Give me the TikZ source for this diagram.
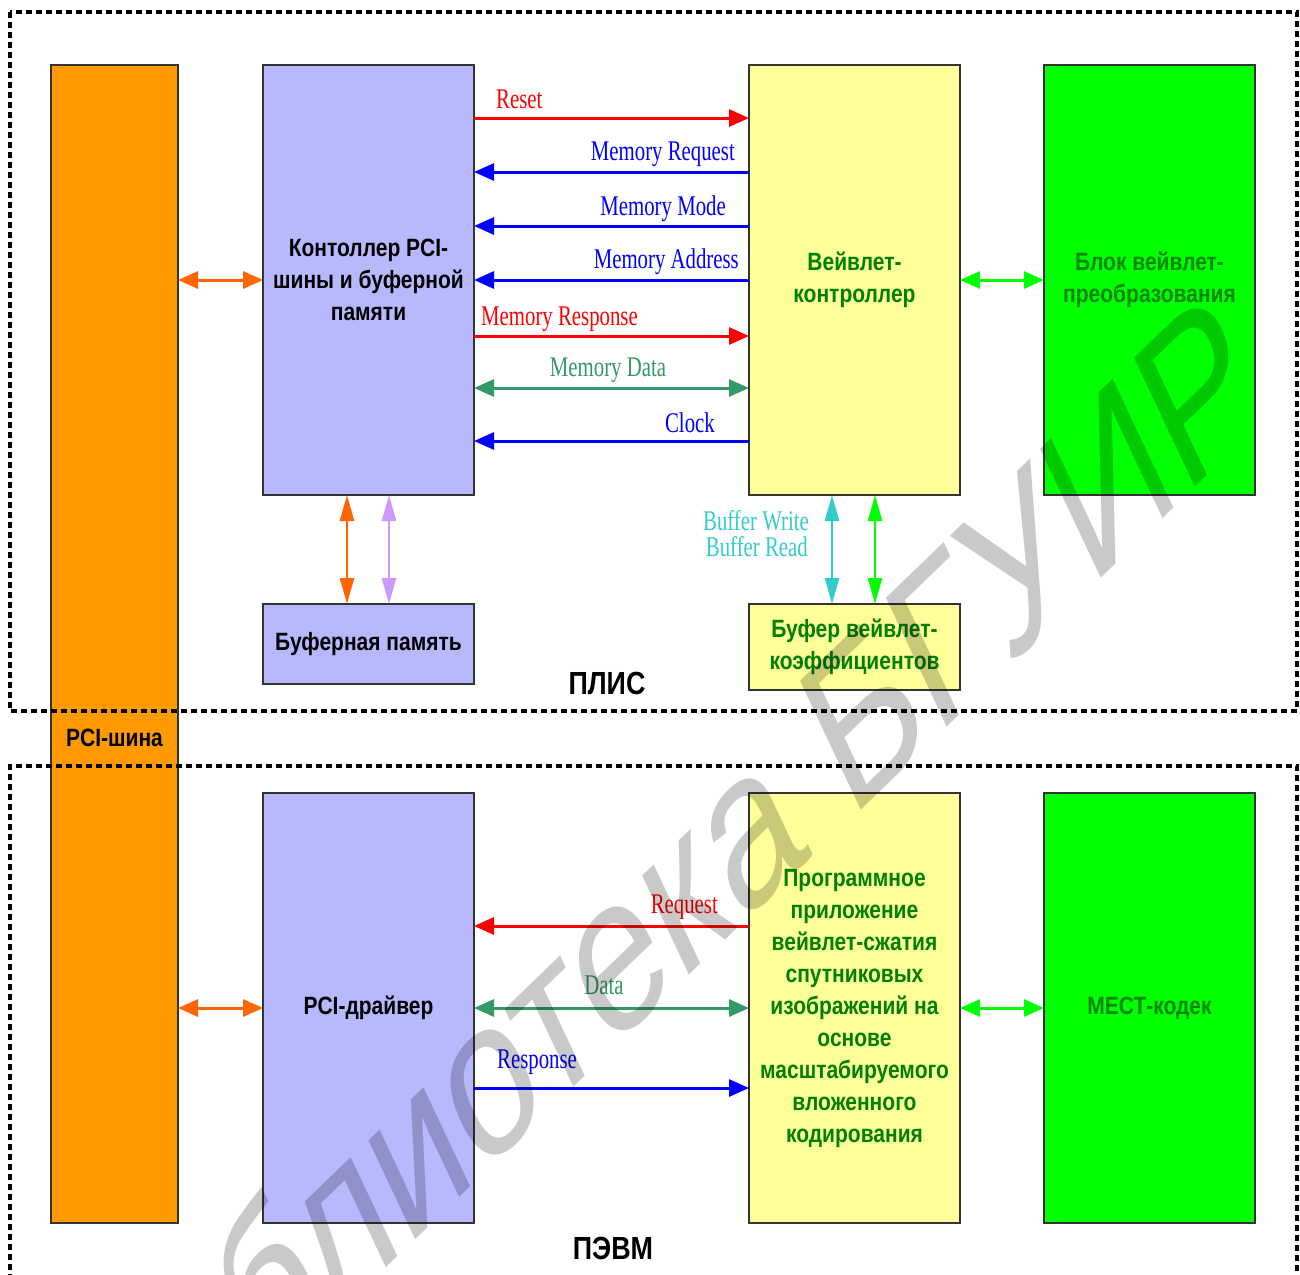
\documentclass[tikz,border=0pt]{standalone}
\usepackage{fontspec}
\setmainfont{Liberation Serif}
\newfontfamily\lblfont[FakeStretch=0.73]{Liberation Serif}
\newfontfamily\boxfont[FakeStretch=0.84]{Liberation Sans}
\newfontfamily\wmfont{Liberation Sans}
\usetikzlibrary{arrows.meta,calc}
\definecolor{busor}{RGB}{255,153,0}
\definecolor{lav}{RGB}{184,184,255}
\definecolor{yel}{RGB}{255,255,153}
\definecolor{grn}{RGB}{0,255,0}
\definecolor{dgrn}{RGB}{0,128,0}
\definecolor{mgrn}{RGB}{0,135,0}
\definecolor{aor}{RGB}{255,102,0}
\definecolor{alav}{RGB}{204,153,255}
\definecolor{cyn}{RGB}{51,204,204}
\definecolor{sea}{RGB}{51,153,102}
\definecolor{rd}{RGB}{255,0,0}
\definecolor{bl}{RGB}{0,0,255}
\begin{document}
\begin{tikzpicture}[x=1pt,y=-1pt,
 box/.style={draw=black!80, line width=1.5pt, inner sep=0pt, outer sep=0pt,
   minimum width=211pt, align=center,
   font=\boxfont\bfseries\fontsize{25}{32}\selectfont},
 txt/.style={inner sep=0pt, align=center, font=\boxfont\bfseries\fontsize{25}{32}\selectfont},
 frame/.style={line width=3.5pt, dash pattern=on 6pt off 4pt},
 htip/.tip={Triangle[length=20pt,width=17pt]},
 vtip/.tip={Triangle[length=26pt,width=14pt]},
 harr/.style={line width=3pt, -htip},
 hdarr/.style={line width=3pt, htip-htip},
 vdarr/.style={line width=2.5pt, vtip-vtip},
 lbl/.style={inner sep=0pt, font=\lblfont\fontsize{28.5}{26}\selectfont},
 ttl/.style={inner sep=0pt, font=\boxfont\bfseries\fontsize{32}{36}\selectfont}
]
\useasboundingbox (0,0) rectangle (1300,1274);
\clip (0,0) rectangle (1300,1274);
\fill[white] (0,0) rectangle (1300,1274);

% boxes
\node[box, fill=busor, minimum width=127pt, minimum height=1158pt] (bus) at (114.5,644) {};
\node[box, fill=lav, minimum height=430pt] (ctrl) at (368.5,280) {Контоллер PCI-\\шины и буферной\\памяти};
\node[box, fill=yel, minimum height=430pt, text=dgrn] (wav) at (854.5,280) {Вейвлет-\\контроллер};
\node[box, fill=grn, minimum height=430pt, text=mgrn] (blk) at (1149.5,280) {Блок вейвлет-\\преобразования};
\node[box, fill=lav, minimum height=80pt] (bufmem) at (368.5,644) {Буферная память};
\node[box, fill=yel, minimum height=86pt, text=dgrn] (coef) at (854.5,647) {Буфер вейвлет-\\коэффициентов};
\node[box, fill=lav, minimum height=430pt] (drv) at (368.5,1008) {PCI-драйвер};
\node[box, fill=yel, minimum height=430pt, text=dgrn] (app) at (854.5,1008) {Программное\\приложение\\вейвлет-сжатия\\спутниковых\\изображений на\\основе\\масштабируемого\\вложенного\\кодирования};
\node[box, fill=grn, minimum height=430pt, text=mgrn] (mect) at (1149.5,1008) {МЕСТ-кодек};

% frames
\draw[frame] (10,12) rectangle (1297,711);
\draw[frame] (10,1300) -- (10,766) -- (1297,766) -- (1297,1300);

\node[txt] (buslbl) at (114.5,738) {PCI-шина};
\node[ttl] (plis) at (607,683) {ПЛИС};
\node[ttl] (pevm) at (613,1248) {ПЭВМ};

% PCI bus links
\draw[hdarr, aor] (bus.east |- ctrl.west) -- (ctrl.west);
\draw[hdarr, aor] (bus.east |- drv.west) -- (drv.west);

% controller <-> wavelet controller
\draw[harr, rd] (ctrl.east |- 0,118) -- (wav.west |- 0,118);
\draw[harr, bl] (wav.west |- 0,172) -- (ctrl.east |- 0,172);
\draw[harr, bl] (wav.west |- 0,226) -- (ctrl.east |- 0,226);
\draw[harr, bl] (wav.west |- 0,280) -- (ctrl.east |- 0,280);
\draw[harr, rd] (ctrl.east |- 0,336) -- (wav.west |- 0,336);
\draw[hdarr, sea] (ctrl.east |- 0,388) -- (wav.west |- 0,388);
\draw[harr, bl] (wav.west |- 0,441) -- (ctrl.east |- 0,441);

\node[lbl, text=rd, anchor=base west] (lreset) at (496,108) {Reset};
\node[lbl, text=bl, anchor=base east] (lmreq) at (735,160) {Memory Request};
\node[lbl, text=bl, anchor=base east] (lmmode) at (726,215) {Memory Mode};
\node[lbl, text=bl, anchor=base east] (lmaddr) at (739,268) {Memory Address};
\node[lbl, text=rd, anchor=base west] (lmresp) at (481,325) {Memory Response};
\node[lbl, text=sea, anchor=base] (lmdata) at (608,376) {Memory Data};
\node[lbl, text=bl, anchor=base east] (lclock) at (715,432) {Clock};

% vertical links
\draw[vdarr, aor] (ctrl.south -| 347,0) -- (bufmem.north -| 347,0);
\draw[vdarr, alav] (ctrl.south -| 389,0) -- (bufmem.north -| 389,0);
\draw[vdarr, cyn] (wav.south -| 832,0) -- (coef.north -| 832,0);
\draw[vdarr, grn] (wav.south -| 875,0) -- (coef.north -| 875,0);
\node[lbl, text=cyn, anchor=base east] (lbw) at (809,530) {Buffer Write};
\node[lbl, text=cyn, anchor=base east] (lbr) at (808,556) {Buffer Read};

% wavelet controller <-> block
\draw[hdarr, grn] (wav.east) -- (blk.west);
\draw[hdarr, grn] (app.east) -- (mect.west);

% PC links
\draw[harr, rd] (app.west |- 0,926) -- (drv.east |- 0,926);
\draw[hdarr, sea] (drv.east |- 0,1008) -- (app.west |- 0,1008);
\draw[harr, bl] (drv.east |- 0,1088) -- (app.west |- 0,1088);
\node[lbl, text=rd, anchor=base east] (lreq) at (718,913) {Request};
\node[lbl, text=sea, anchor=base] (ldata) at (604,994) {Data};
\node[lbl, text=bl, anchor=base west] (lresp) at (497,1068) {Response};

% watermark
\begin{scope}[blend mode=multiply]
\begin{scope}[shift={(842,828)}, yscale=1.43]
\node[rotate=34, transform shape, anchor=base east, inner sep=0pt, text=black!21,
  font=\wmfont\fontsize{158}{160}\selectfont] (wm) at (430,-290) {Библиотека БГУИР};
\end{scope}
\end{scope}
\end{tikzpicture}
\end{document}
